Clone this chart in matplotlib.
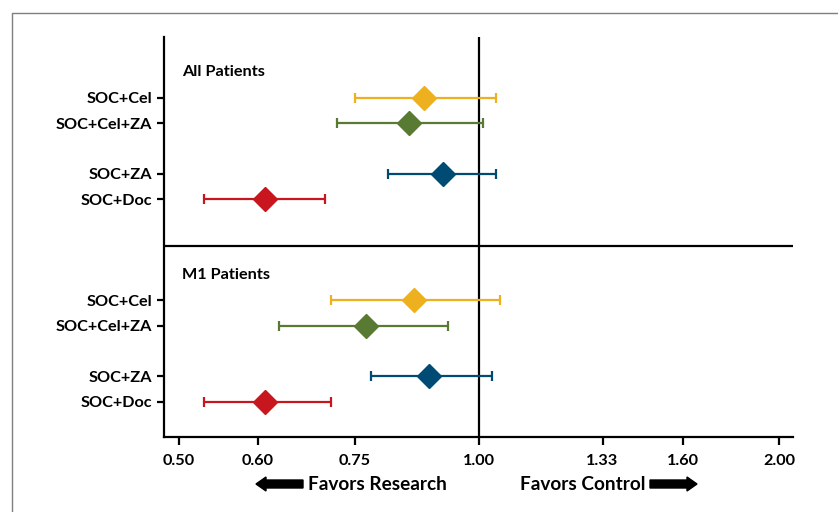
import matplotlib
matplotlib.use('Agg')

from matplotlib import pyplot as plt
from matplotlib.patches import FancyArrow
from matplotlib.lines import Line2D
from matplotlib import ticker

# Hazard ratios with confidence intervals
treatments = ['SOC+Cel', 'SOC+Cel+ZA', 'SOC+ZA', 'SOC+Doc']
colors = ['#EDB120', '#587A32', '#004B73', '#C8161E']

all_hr = [0.88, 0.85, 0.92, 0.61]
all_lo = [0.75, 0.72, 0.81, 0.53]
all_hi = [1.04, 1.01, 1.04, 0.70]

m1_hr = [0.86, 0.77, 0.89, 0.61]
m1_lo = [0.71, 0.63, 0.78, 0.53]
m1_hi = [1.05, 0.93, 1.03, 0.71]

groups = ['All Patients', 'M1 Patients']
xticks = [0.50, 0.60, 0.75, 1.00, 1.33, 1.60, 2.00]

# row layout (in row units, top to bottom)
row_offsets = [2.4, 3.4, 5.4, 6.4]
group_offset = 8.0

W, H, DPI = 838, 512, 100
plt.rcParams['font.family'] = ['Lato', 'DejaVu Sans']
plt.rcParams['font.weight'] = 'bold'

fig = plt.figure(figsize=(W / DPI, H / DPI), dpi=DPI)
ax = fig.add_axes([164 / W, 1 - 437 / H, (793 - 164) / W, 400 / H])

ytick_pos = []
ytick_lab = []
for g, (hr, lo, hi) in enumerate([(all_hr, all_lo, all_hi), (m1_hr, m1_lo, m1_hi)]):
    base = g * group_offset
    ax.text(0.029, base + 1.4, groups[g], transform=ax.get_yaxis_transform(),
            ha='left', va='center', fontsize=11.7, fontweight='bold')
    for i in range(len(treatments)):
        y = base + row_offsets[i]
        ax.errorbar(hr[i], y, xerr=[[hr[i] - lo[i]], [hi[i] - hr[i]]],
                    fmt='none', ecolor=colors[i], elinewidth=1.6,
                    capsize=3.3, capthick=1.6, zorder=2)
        ax.plot(hr[i], y, marker='D', markersize=12, color=colors[i],
                markeredgecolor=colors[i], zorder=3)
        ytick_pos.append(y)
        ytick_lab.append(treatments[i])

ax.set_xscale('log')
ax.set_xlim(0.483, 2.065)
ax.set_ylim(15.8, 0)
ax.xaxis.set_major_locator(ticker.FixedLocator(xticks))
ax.xaxis.set_major_formatter(ticker.FixedFormatter(['%.2f' % v for v in xticks]))
ax.xaxis.set_minor_locator(ticker.NullLocator())
ax.set_yticks(ytick_pos)
ax.set_yticklabels(ytick_lab)

ax.axvline(1.0, color='black', linewidth=1.6, zorder=1)
ax.axhline(group_offset + 0.25, color='black', linewidth=1.6, zorder=1)

for side in ['top', 'right']:
    ax.spines[side].set_visible(False)
for side in ['left', 'bottom']:
    ax.spines[side].set_linewidth(1.6)
ax.tick_params(axis='y', width=1.6, length=5, labelsize=11.7, pad=3.5)
ax.tick_params(axis='x', width=1.6, length=6, labelsize=11.7, pad=6)

# favors labels with block arrows
fig.text(447 / W, 1 - 484 / H, 'Favors Research', ha='right', va='center',
         fontsize=13.7, fontweight='bold')
fig.text(520 / W, 1 - 484 / H, 'Favors Control', ha='left', va='center',
         fontsize=13.7, fontweight='bold')
fig.patches.append(FancyArrow(303 / W, 1 - 484 / H, -47 / W, 0, width=8 / H,
                              head_width=14 / H, head_length=10 / W,
                              length_includes_head=True, color='black',
                              transform=fig.transFigure, figure=fig))
fig.patches.append(FancyArrow(650 / W, 1 - 484 / H, 47 / W, 0, width=8 / H,
                              head_width=14 / H, head_length=10 / W,
                              length_includes_head=True, color='black',
                              transform=fig.transFigure, figure=fig))

# light gray frame around the panel
fig.add_artist(Line2D([11.5 / W, 11.5 / W, 1], [0, 1 - 13 / H, 1 - 13 / H],
                      transform=fig.transFigure, color='#7F7F7F', linewidth=1))

fig.savefig('out.png', dpi=DPI)
